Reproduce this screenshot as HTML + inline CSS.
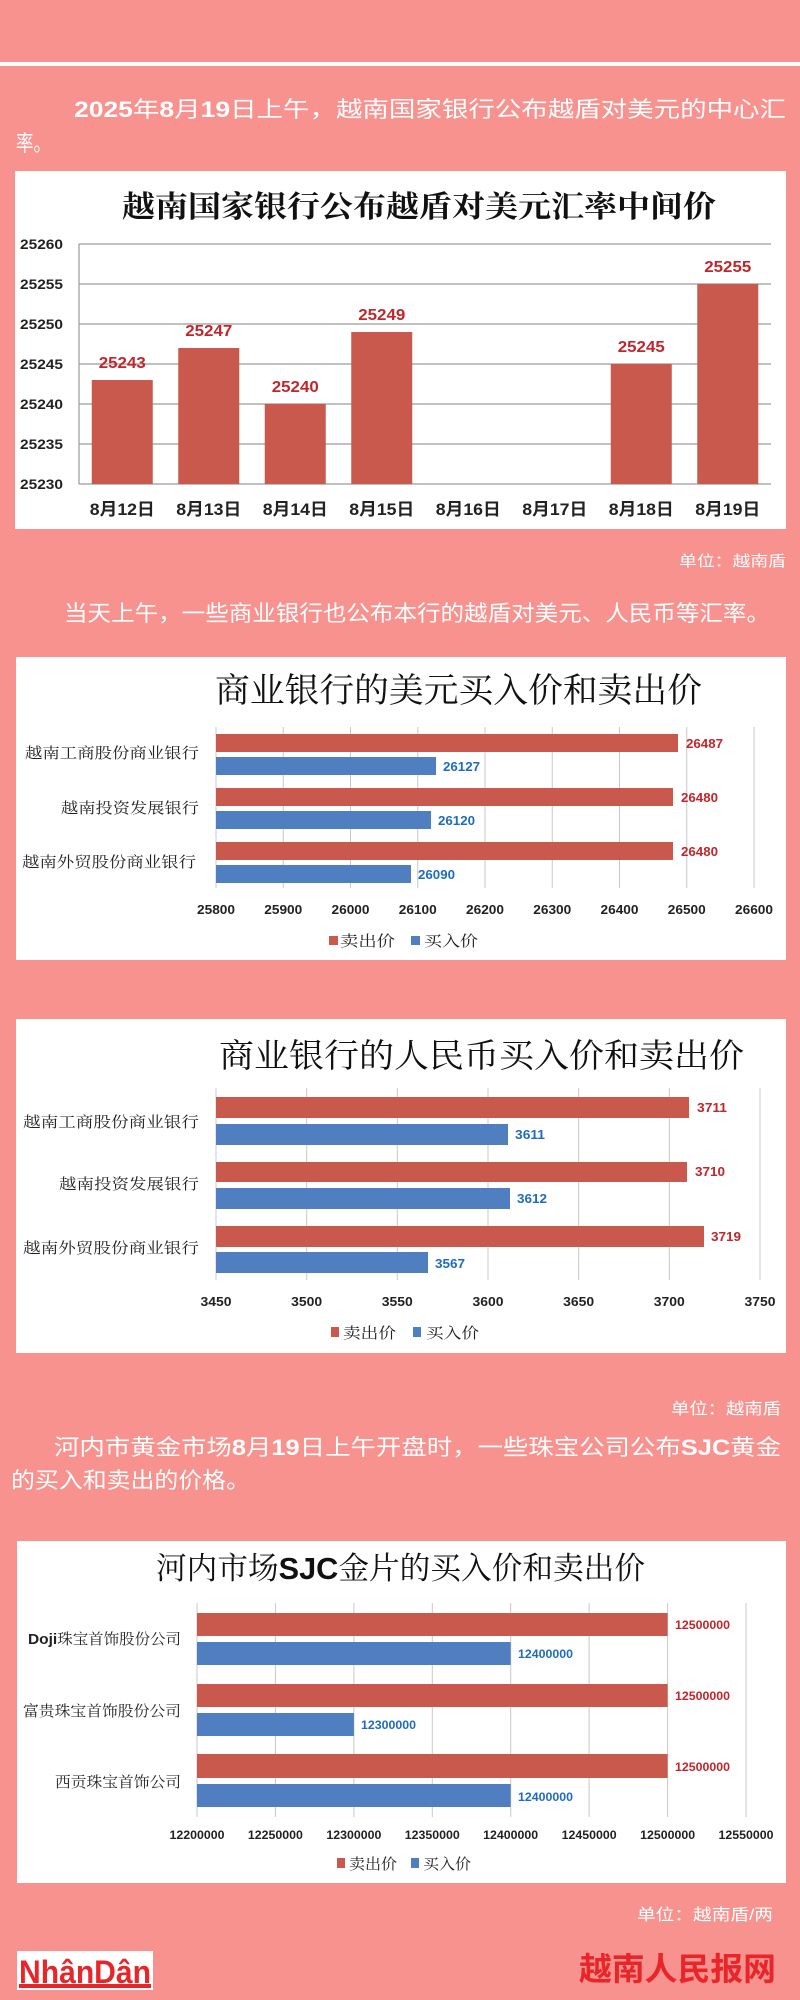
<!DOCTYPE html>
<html><head><meta charset="utf-8"><style>
html,body{margin:0;padding:0;background:#f7928f;}
svg{display:block}
.s{font-family:"Liberation Sans","Noto Sans CJK SC",sans-serif;}
.sf{font-family:"Liberation Serif","Noto Serif CJK SC",serif;}
</style></head><body>
<svg width="800" height="2000" viewBox="0 0 800 2000" xmlns="http://www.w3.org/2000/svg">
<rect x="0" y="0" width="800" height="2000" fill="#f7928f"/>
<rect x="0" y="62" width="800" height="4" fill="#ffffff"/>

<!-- paragraph 1 -->
<g class="s" fill="#ffffff" font-size="22">
<text x="74" y="117" textLength="712" lengthAdjust="spacingAndGlyphs"><tspan font-weight="bold">2025</tspan>年<tspan font-weight="bold">8</tspan>月<tspan font-weight="bold">19</tspan>日上午，越南国家银行公布越盾对美元的中心汇</text>
<text x="16" y="151" textLength="35" lengthAdjust="spacingAndGlyphs">率。</text>
</g>

<!-- chart 1 -->
<rect x="15" y="171" width="771" height="358" fill="#ffffff"/>
<text class="sf" x="122" y="217" font-size="30" font-weight="bold" fill="#111" textLength="594" lengthAdjust="spacingAndGlyphs">越南国家银行公布越盾对美元汇率中间价</text>
<g stroke="#9a9a9a" stroke-width="1.2">
<line x1="79" y1="244" x2="771" y2="244"/><line x1="79" y1="284" x2="771" y2="284"/>
<line x1="79" y1="324" x2="771" y2="324"/><line x1="79" y1="364" x2="771" y2="364"/>
<line x1="79" y1="404" x2="771" y2="404"/><line x1="79" y1="444" x2="771" y2="444"/>
<line x1="79" y1="484" x2="771" y2="484"/><line x1="79" y1="244" x2="79" y2="484"/>
</g>
<g class="s" font-size="14" font-weight="bold" fill="#222">
<text x="20" y="249" textLength="43" lengthAdjust="spacingAndGlyphs">25260</text>
<text x="20" y="289" textLength="43" lengthAdjust="spacingAndGlyphs">25255</text>
<text x="20" y="329" textLength="43" lengthAdjust="spacingAndGlyphs">25250</text>
<text x="20" y="369" textLength="43" lengthAdjust="spacingAndGlyphs">25245</text>
<text x="20" y="409" textLength="43" lengthAdjust="spacingAndGlyphs">25240</text>
<text x="20" y="449" textLength="43" lengthAdjust="spacingAndGlyphs">25235</text>
<text x="20" y="489" textLength="43" lengthAdjust="spacingAndGlyphs">25230</text>
</g>
<g fill="#c9594c">
<rect x="91.75" y="380" width="61" height="104"/>
<rect x="178.25" y="348" width="61" height="136"/>
<rect x="264.75" y="404" width="61" height="80"/>
<rect x="351.25" y="332" width="61" height="152"/>
<rect x="610.75" y="364" width="61" height="120"/>
<rect x="697.25" y="284" width="61" height="200"/>
</g>
<g class="s" font-size="16" font-weight="bold" fill="#c0262b" text-anchor="middle">
<text x="122.25" y="368" textLength="47" lengthAdjust="spacingAndGlyphs">25243</text>
<text x="208.75" y="336" textLength="47" lengthAdjust="spacingAndGlyphs">25247</text>
<text x="295.25" y="392" textLength="47" lengthAdjust="spacingAndGlyphs">25240</text>
<text x="381.75" y="320" textLength="47" lengthAdjust="spacingAndGlyphs">25249</text>
<text x="641.25" y="352" textLength="47" lengthAdjust="spacingAndGlyphs">25245</text>
<text x="727.75" y="272" textLength="47" lengthAdjust="spacingAndGlyphs">25255</text>
</g>
<g class="s" font-size="17" font-weight="bold" fill="#222" text-anchor="middle">
<text x="122.25" y="515" textLength="65" lengthAdjust="spacingAndGlyphs">8月12日</text>
<text x="208.75" y="515" textLength="65" lengthAdjust="spacingAndGlyphs">8月13日</text>
<text x="295.25" y="515" textLength="65" lengthAdjust="spacingAndGlyphs">8月14日</text>
<text x="381.75" y="515" textLength="65" lengthAdjust="spacingAndGlyphs">8月15日</text>
<text x="468.25" y="515" textLength="65" lengthAdjust="spacingAndGlyphs">8月16日</text>
<text x="554.75" y="515" textLength="65" lengthAdjust="spacingAndGlyphs">8月17日</text>
<text x="641.25" y="515" textLength="65" lengthAdjust="spacingAndGlyphs">8月18日</text>
<text x="727.75" y="515" textLength="65" lengthAdjust="spacingAndGlyphs">8月19日</text>
</g>
<text class="s" x="679" y="566" font-size="15" fill="#ffffff" textLength="107" lengthAdjust="spacingAndGlyphs">单位：越南盾</text>
<text class="s" x="64" y="621" font-size="22" fill="#ffffff" textLength="706" lengthAdjust="spacingAndGlyphs">当天上午，一些商业银行也公布本行的越盾对美元、人民币等汇率。</text>

<!-- chart 2 -->
<rect x="16" y="657" width="770" height="303" fill="#ffffff"/>
<text class="sf" x="215" y="702" font-size="34" fill="#111" textLength="487" lengthAdjust="spacingAndGlyphs">商业银行的美元买入价和卖出价</text>
<g stroke="#c8c8c8" stroke-width="1">
<line x1="216" y1="727" x2="216" y2="888"/><line x1="283.25" y1="727" x2="283.25" y2="888"/>
<line x1="350.5" y1="727" x2="350.5" y2="888"/><line x1="417.75" y1="727" x2="417.75" y2="888"/>
<line x1="485" y1="727" x2="485" y2="888"/><line x1="552.25" y1="727" x2="552.25" y2="888"/>
<line x1="619.5" y1="727" x2="619.5" y2="888"/><line x1="686.75" y1="727" x2="686.75" y2="888"/>
<line x1="754" y1="727" x2="754" y2="888"/>
</g>
<rect x="216" y="734" width="462" height="18" fill="#c9594c"/>
<rect x="216" y="757" width="220" height="18" fill="#4f7fc0"/>
<rect x="216" y="788" width="457" height="18" fill="#c9594c"/>
<rect x="216" y="811" width="215" height="18" fill="#4f7fc0"/>
<rect x="216" y="842" width="457" height="18" fill="#c9594c"/>
<rect x="216" y="865" width="195" height="18" fill="#4f7fc0"/>
<g class="s" font-size="13" font-weight="bold">
<text x="686" y="748" fill="#c0262b" textLength="37" lengthAdjust="spacingAndGlyphs">26487</text>
<text x="443" y="771" fill="#1f6cbf" textLength="37" lengthAdjust="spacingAndGlyphs">26127</text>
<text x="681" y="802" fill="#c0262b" textLength="37" lengthAdjust="spacingAndGlyphs">26480</text>
<text x="438" y="825" fill="#1f6cbf" textLength="37" lengthAdjust="spacingAndGlyphs">26120</text>
<text x="681" y="856" fill="#c0262b" textLength="37" lengthAdjust="spacingAndGlyphs">26480</text>
<text x="418" y="879" fill="#1f6cbf" textLength="37" lengthAdjust="spacingAndGlyphs">26090</text>
</g>
<g class="sf" font-size="15" fill="#222" text-anchor="end">
<text x="199" y="758" textLength="174" lengthAdjust="spacingAndGlyphs">越南工商股份商业银行</text>
<text x="199" y="813" textLength="138" lengthAdjust="spacingAndGlyphs">越南投资发展银行</text>
<text x="196" y="867" textLength="174" lengthAdjust="spacingAndGlyphs">越南外贸股份商业银行</text>
</g>
<g class="s" font-size="13" font-weight="bold" fill="#222" text-anchor="middle">
<text x="216" y="914" textLength="38" lengthAdjust="spacingAndGlyphs">25800</text>
<text x="283.25" y="914" textLength="38" lengthAdjust="spacingAndGlyphs">25900</text>
<text x="350.5" y="914" textLength="38" lengthAdjust="spacingAndGlyphs">26000</text>
<text x="417.75" y="914" textLength="38" lengthAdjust="spacingAndGlyphs">26100</text>
<text x="485" y="914" textLength="38" lengthAdjust="spacingAndGlyphs">26200</text>
<text x="552.25" y="914" textLength="38" lengthAdjust="spacingAndGlyphs">26300</text>
<text x="619.5" y="914" textLength="38" lengthAdjust="spacingAndGlyphs">26400</text>
<text x="686.75" y="914" textLength="38" lengthAdjust="spacingAndGlyphs">26500</text>
<text x="754" y="914" textLength="38" lengthAdjust="spacingAndGlyphs">26600</text>
</g>
<rect x="329" y="936" width="9" height="9" fill="#c9594c"/>
<text class="sf" x="340" y="946" font-size="15" fill="#222" textLength="55" lengthAdjust="spacingAndGlyphs">卖出价</text>
<rect x="411" y="936" width="9" height="9" fill="#4f7fc0"/>
<text class="sf" x="424" y="946" font-size="15" fill="#222" textLength="54" lengthAdjust="spacingAndGlyphs">买入价</text>

<!-- chart 3 -->
<rect x="16" y="1019" width="770" height="334" fill="#ffffff"/>
<text class="sf" x="219" y="1067" font-size="33" fill="#111" textLength="525" lengthAdjust="spacingAndGlyphs">商业银行的人民币买入价和卖出价</text>
<g stroke="#c8c8c8" stroke-width="1">
<line x1="216" y1="1088" x2="216" y2="1280"/><line x1="306.7" y1="1088" x2="306.7" y2="1280"/>
<line x1="397.3" y1="1088" x2="397.3" y2="1280"/><line x1="488" y1="1088" x2="488" y2="1280"/>
<line x1="578.7" y1="1088" x2="578.7" y2="1280"/><line x1="669.3" y1="1088" x2="669.3" y2="1280"/>
<line x1="760" y1="1088" x2="760" y2="1280"/>
</g>
<rect x="216" y="1097" width="473" height="21" fill="#c9594c"/>
<rect x="216" y="1124" width="292" height="21" fill="#4f7fc0"/>
<rect x="216" y="1162" width="471" height="20" fill="#c9594c"/>
<rect x="216" y="1188" width="294" height="21" fill="#4f7fc0"/>
<rect x="216" y="1226" width="488" height="21" fill="#c9594c"/>
<rect x="216" y="1252" width="212" height="21" fill="#4f7fc0"/>
<g class="s" font-size="13" font-weight="bold">
<text x="697" y="1112" fill="#c0262b" textLength="30" lengthAdjust="spacingAndGlyphs">3711</text>
<text x="515" y="1139" fill="#1f6cbf" textLength="30" lengthAdjust="spacingAndGlyphs">3611</text>
<text x="695" y="1176" fill="#c0262b" textLength="30" lengthAdjust="spacingAndGlyphs">3710</text>
<text x="517" y="1203" fill="#1f6cbf" textLength="30" lengthAdjust="spacingAndGlyphs">3612</text>
<text x="711" y="1241" fill="#c0262b" textLength="30" lengthAdjust="spacingAndGlyphs">3719</text>
<text x="435" y="1268" fill="#1f6cbf" textLength="30" lengthAdjust="spacingAndGlyphs">3567</text>
</g>
<g class="sf" font-size="15" fill="#222" text-anchor="end">
<text x="199" y="1127" textLength="176" lengthAdjust="spacingAndGlyphs">越南工商股份商业银行</text>
<text x="199" y="1189" textLength="140" lengthAdjust="spacingAndGlyphs">越南投资发展银行</text>
<text x="199" y="1253" textLength="176" lengthAdjust="spacingAndGlyphs">越南外贸股份商业银行</text>
</g>
<g class="s" font-size="13" font-weight="bold" fill="#222" text-anchor="middle">
<text x="216" y="1306" textLength="31" lengthAdjust="spacingAndGlyphs">3450</text>
<text x="306.7" y="1306" textLength="31" lengthAdjust="spacingAndGlyphs">3500</text>
<text x="397.3" y="1306" textLength="31" lengthAdjust="spacingAndGlyphs">3550</text>
<text x="488" y="1306" textLength="31" lengthAdjust="spacingAndGlyphs">3600</text>
<text x="578.7" y="1306" textLength="31" lengthAdjust="spacingAndGlyphs">3650</text>
<text x="669.3" y="1306" textLength="31" lengthAdjust="spacingAndGlyphs">3700</text>
<text x="760" y="1306" textLength="31" lengthAdjust="spacingAndGlyphs">3750</text>
</g>
<rect x="331" y="1327" width="8" height="10" fill="#c9594c"/>
<text class="sf" x="343" y="1338" font-size="15" fill="#222" textLength="53" lengthAdjust="spacingAndGlyphs">卖出价</text>
<rect x="413" y="1327" width="8" height="10" fill="#4f7fc0"/>
<text class="sf" x="426" y="1338" font-size="15" fill="#222" textLength="53" lengthAdjust="spacingAndGlyphs">买入价</text>

<text class="s" x="671" y="1414" font-size="16" fill="#ffffff" textLength="110" lengthAdjust="spacingAndGlyphs">单位：越南盾</text>
<g class="s" fill="#ffffff" font-size="22">
<text x="54" y="1455" textLength="727" lengthAdjust="spacingAndGlyphs">河内市黄金市场<tspan font-weight="bold">8</tspan>月<tspan font-weight="bold">19</tspan>日上午开盘时，一些珠宝公司公布<tspan font-weight="bold">SJC</tspan>黄金</text>
<text x="11" y="1488" textLength="239" lengthAdjust="spacingAndGlyphs">的买入和卖出的价格。</text>
</g>

<!-- chart 4 -->
<rect x="17" y="1541" width="769" height="342" fill="#ffffff"/>
<text class="sf" x="156" y="1579" font-size="31" fill="#111" textLength="489" lengthAdjust="spacingAndGlyphs">河内市场<tspan class="s" font-weight="bold">SJC</tspan>金片的买入价和卖出价</text>
<g stroke="#c8c8c8" stroke-width="1">
<line x1="197" y1="1603" x2="197" y2="1817"/><line x1="275.4" y1="1603" x2="275.4" y2="1817"/>
<line x1="353.9" y1="1603" x2="353.9" y2="1817"/><line x1="432.3" y1="1603" x2="432.3" y2="1817"/>
<line x1="510.7" y1="1603" x2="510.7" y2="1817"/><line x1="589.1" y1="1603" x2="589.1" y2="1817"/>
<line x1="667.6" y1="1603" x2="667.6" y2="1817"/><line x1="746" y1="1603" x2="746" y2="1817"/>
</g>
<rect x="197" y="1613" width="470.6" height="23" fill="#c9594c"/>
<rect x="197" y="1642" width="313.7" height="23" fill="#4f7fc0"/>
<rect x="197" y="1684" width="470.6" height="23" fill="#c9594c"/>
<rect x="197" y="1713" width="156.9" height="23" fill="#4f7fc0"/>
<rect x="197" y="1754" width="470.6" height="24" fill="#c9594c"/>
<rect x="197" y="1784" width="313.7" height="23" fill="#4f7fc0"/>
<g class="s" font-size="12" font-weight="bold">
<text x="675" y="1629" fill="#c0262b" textLength="55" lengthAdjust="spacingAndGlyphs">12500000</text>
<text x="518" y="1658" fill="#1f6cbf" textLength="55" lengthAdjust="spacingAndGlyphs">12400000</text>
<text x="675" y="1700" fill="#c0262b" textLength="55" lengthAdjust="spacingAndGlyphs">12500000</text>
<text x="361" y="1729" fill="#1f6cbf" textLength="55" lengthAdjust="spacingAndGlyphs">12300000</text>
<text x="675" y="1771" fill="#c0262b" textLength="55" lengthAdjust="spacingAndGlyphs">12500000</text>
<text x="518" y="1801" fill="#1f6cbf" textLength="55" lengthAdjust="spacingAndGlyphs">12400000</text>
</g>
<g class="sf" font-size="15" fill="#222" text-anchor="end">
<text x="181" y="1644" textLength="153" lengthAdjust="spacingAndGlyphs"><tspan class="s" font-weight="bold">Doji</tspan>珠宝首饰股份公司</text>
<text x="181" y="1716" textLength="158" lengthAdjust="spacingAndGlyphs">富贵珠宝首饰股份公司</text>
<text x="181" y="1787" textLength="126" lengthAdjust="spacingAndGlyphs">西贡珠宝首饰公司</text>
</g>
<g class="s" font-size="12" font-weight="bold" fill="#222" text-anchor="middle">
<text x="197" y="1839" textLength="55" lengthAdjust="spacingAndGlyphs">12200000</text>
<text x="275.4" y="1839" textLength="55" lengthAdjust="spacingAndGlyphs">12250000</text>
<text x="353.9" y="1839" textLength="55" lengthAdjust="spacingAndGlyphs">12300000</text>
<text x="432.3" y="1839" textLength="55" lengthAdjust="spacingAndGlyphs">12350000</text>
<text x="510.7" y="1839" textLength="55" lengthAdjust="spacingAndGlyphs">12400000</text>
<text x="589.1" y="1839" textLength="55" lengthAdjust="spacingAndGlyphs">12450000</text>
<text x="667.6" y="1839" textLength="55" lengthAdjust="spacingAndGlyphs">12500000</text>
<text x="746" y="1839" textLength="55" lengthAdjust="spacingAndGlyphs">12550000</text>
</g>
<rect x="337" y="1858" width="8" height="10" fill="#c9594c"/>
<text class="sf" x="349" y="1869" font-size="15" fill="#222" textLength="48" lengthAdjust="spacingAndGlyphs">卖出价</text>
<rect x="411" y="1858" width="8" height="10" fill="#4f7fc0"/>
<text class="sf" x="423" y="1869" font-size="15" fill="#222" textLength="48" lengthAdjust="spacingAndGlyphs">买入价</text>

<text class="s" x="637" y="1920" font-size="16" fill="#ffffff" textLength="136" lengthAdjust="spacingAndGlyphs">单位：越南盾/两</text>

<!-- footer -->
<rect x="17" y="1951" width="136" height="39" fill="#ffffff"/>
<text class="s" x="19" y="1983" font-size="32" font-weight="bold" fill="#e8262a" textLength="132" lengthAdjust="spacingAndGlyphs">NhânDân</text>
<rect x="19" y="1984" width="132" height="4" fill="#e8262a"/>
<text class="s" x="579" y="1980" font-size="32" font-weight="bold" fill="#e8262a" textLength="197" lengthAdjust="spacingAndGlyphs">越南人民报网</text>
</svg>
</body></html>
